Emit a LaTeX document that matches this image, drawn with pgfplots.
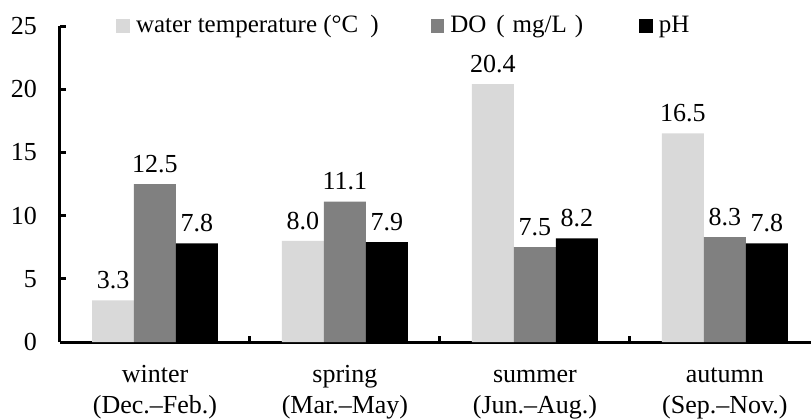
\documentclass[border=0pt]{standalone}
\usepackage{pgfplots}
\pgfplotsset{compat=1.18}
\usepackage{fontspec}
\setmainfont{Liberation Serif}
\definecolor{lgray}{HTML}{D9D9D9}
\definecolor{mgray}{HTML}{808080}
\begin{document}
\fontsize{13}{15.5}\selectfont
\begin{tikzpicture}
\path[use as bounding box] (0,0) rectangle (405.5pt,209.5pt);
\begin{axis}[
  at={(30pt,38.5pt)}, anchor=south west,
  scale only axis, width=375.5pt, height=158pt,
  ybar, bar width=0.221,
  xmin=-0.5, xmax=3.453, ymin=0, ymax=25,
  ytick={0,5,...,25},
  axis lines*=left,
  axis line style={line width=1.5pt},
  tick align=inside,
  major tick length=3pt,
  tick style={line width=1.5pt, black},
  xtick={0.5,1.5,2.5}, xticklabels={},
  extra x ticks={0,1,2,3},
  extra x tick labels={{\strut winter\\(Dec.–Feb.)},{\strut spring\\(Mar.–May)},{\strut summer\\(Jun.–Aug.)},{\strut autumn\\(Sep.–Nov.)}},
  extra x tick style={major tick length=0pt, tick label style={align=center, yshift=-5pt, font=\fontsize{13}{15.5}\selectfont}},
  yticklabel style={xshift=-7pt, font=\fontsize{13}{15.5}\selectfont},
  /pgf/number format/assume math mode=true,
  nodes near coords={\pgfmathprintnumber[fixed,fixed zerofill,precision=1,assume math mode=true]{\pgfplotspointmeta}},
  nodes near coords style={font=\fontsize{13}{15.5}\selectfont, color=black, inner ysep=5.5pt, inner xsep=0pt},
  legend columns=3,
  legend cell align=left,
  legend style={draw=none, fill=none, at={(0.0746,1)}, anchor=west, inner sep=0pt, font=\fontsize{12.5}{15}\selectfont,
    /tikz/every odd column/.append style={column sep=1pt},
    /tikz/column 2/.style={column sep=24pt},
    /tikz/column 4/.style={column sep=26pt}},
  legend image code/.code={\fill[#1] (0pt,-3.4pt) rectangle (6.8pt,3.4pt);},
]
\addplot[fill=lgray, draw=none, bar shift=-0.221] coordinates {(0,3.3) (1,8.0) (2,20.4) (3,16.5)};
\addplot[fill=mgray, draw=none, bar shift=0] coordinates {(0,12.5) (1,11.1) (2,7.5) (3,8.3)};
\addplot[fill=black, draw=none, bar shift=0.221] coordinates {(0,7.8) (1,7.9) (2,8.2) (3,7.8)};
\addlegendentry{water temperature (°C\hspace{6pt})}
\addlegendentry{DO\hspace{5pt}(\hspace{4pt}mg/L\hspace{4pt})}
\addlegendentry{pH}
\end{axis}
\end{tikzpicture}
\end{document}
